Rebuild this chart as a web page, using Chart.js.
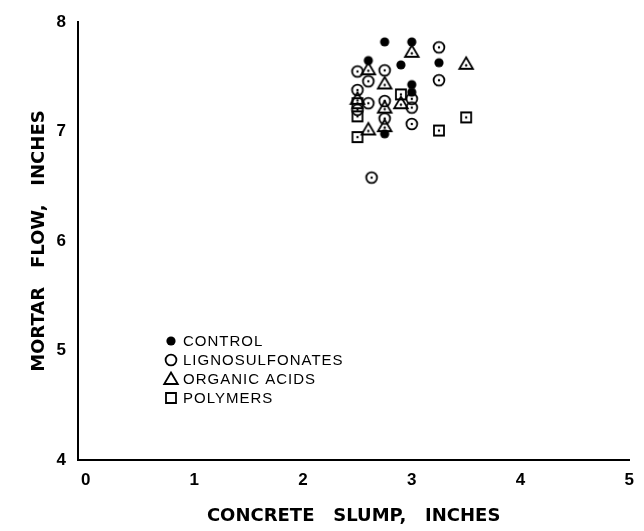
<!DOCTYPE html>
<html>
<head>
<meta charset="utf-8">
<title>Mortar flow vs concrete slump</title>
<script src="https://cdn.jsdelivr.net/npm/chart.js@4.4.1/dist/chart.umd.min.js"></script>
<style>
    html, body { margin: 0; padding: 0; background: #fff; }
    #wrap { width: 644px; height: 531px; }
</style>
</head>
<body>
<div id="wrap"><canvas id="flowChart" width="644" height="531"></canvas></div>
<script>
// slump (in) and mortar flow (in) for each admixture group
const controlSlump = [2.6, 2.75, 2.9, 3.0, 3.0, 3.0, 3.25, 2.75];
const controlFlow  = [7.65, 7.82, 7.61, 7.82, 7.43, 7.36, 7.63, 6.98];

const lignoSlump = [2.5, 2.5, 2.5, 2.6, 2.6, 2.75, 2.75, 2.75, 3.0, 3.0, 3.0, 3.25, 3.25, 2.63];
const lignoFlow  = [7.55, 7.38, 7.2, 7.46, 7.26, 7.56, 7.28, 7.12, 7.3, 7.22, 7.07, 7.77, 7.47, 6.58];

const organicSlump = [2.5, 2.6, 2.6, 2.75, 2.75, 2.75, 2.9, 3.0, 3.5];
const organicFlow  = [7.3, 7.57, 7.02, 7.44, 7.22, 7.05, 7.26, 7.73, 7.62];

const polymerSlump = [2.5, 2.5, 2.5, 2.9, 3.25, 3.5];
const polymerFlow  = [7.26, 7.14, 6.95, 7.34, 7.01, 7.13];

const seriesNames = ['CONTROL', 'LIGNOSULFONATES', 'ORGANIC ACIDS', 'POLYMERS'];
const slumpTicks = [0, 1, 2, 3, 4, 5];
const flowTicks = [4, 5, 6, 7, 8];

const FONT = '"Liberation Sans", Arial, sans-serif';
const TITLE_FONT = '"DejaVu Sans", sans-serif';

// hand-drawn looking markers; open ones carry a small centre dot
const makeMarker = (shape, withDot) => {
    const c = document.createElement('canvas');
    c.width = 18;
    c.height = 18;
    const g = c.getContext('2d');
    const m = 9;
    g.strokeStyle = '#000';
    g.fillStyle = '#000';
    g.lineWidth = 1.8;
    g.beginPath();
    if (shape === 'dot') {
        g.arc(m, m, 4.6, 0, Math.PI * 2);
        g.fill();
    } else if (shape === 'circle') {
        g.arc(m, m, 5.4, 0, Math.PI * 2);
        g.stroke();
    } else if (shape === 'triangle') {
        g.moveTo(m, m - 6.5);
        g.lineTo(m + 6.8, m + 5);
        g.lineTo(m - 6.8, m + 5);
        g.closePath();
        g.stroke();
    } else {
        g.rect(m - 5, m - 5, 10, 10);
        g.stroke();
    }
    if (withDot && shape !== 'dot') {
        g.beginPath();
        g.arc(m, shape === 'triangle' ? m + 1.5 : m, 1.2, 0, Math.PI * 2);
        g.fill();
    }
    return c;
};

const shapes = ['dot', 'circle', 'triangle', 'square'];
const plotMarkers = shapes.map(s => makeMarker(s, true));
const legendMarkers = shapes.map(s => makeMarker(s, false));

const toPoints = (xs, ys) => xs.map((x, i) => ({ x: x, y: ys[i] }));

const groups = [
    toPoints(controlSlump, controlFlow),
    toPoints(lignoSlump, lignoFlow),
    toPoints(organicSlump, organicFlow),
    toPoints(polymerSlump, polymerFlow)
];

// legend sits inside the plot, lower left
const inlineLegend = {
    id: 'inlineLegend',
    afterDraw(chart) {
        const ctx = chart.ctx;
        ctx.save();
        ctx.font = '15px ' + FONT;
        ctx.fillStyle = '#000';
        ctx.textBaseline = 'middle';
        ctx.letterSpacing = '1px';
        chart.data.datasets.forEach((ds, i) => {
            const y = 341 + i * 19;
            ctx.drawImage(legendMarkers[i], 171 - 9, y - 9);
            ctx.fillText(ds.label, 183, y + 1);
        });
        ctx.restore();
    }
};

const tickFont = { family: FONT, size: 17, weight: 'bold' };
const titleFont = { family: TITLE_FONT, size: 18, weight: 'bold' };

new Chart(document.getElementById('flowChart').getContext('2d'), {
    type: 'scatter',
    data: {
        datasets: groups.map((pts, i) => ({
            label: seriesNames[i],
            data: pts,
            pointStyle: plotMarkers[i],
            pointRadius: 6,
            borderColor: '#000',
            backgroundColor: '#000'
        }))
    },
    options: {
        responsive: false,
        animation: false,
        events: [],
        layout: { padding: { top: 19, right: 12, left: 0, bottom: 0 } },
        plugins: {
            legend: { display: false },
            tooltip: { enabled: false }
        },
        scales: {
            x: {
                type: 'linear',
                min: -0.07,
                max: 5,
                afterBuildTicks: (scale) => {
                    scale.ticks = slumpTicks.map(v => ({ value: v }));
                },
                afterFit: (scale) => { scale.height = 71; },
                grid: { color: 'rgba(0,0,0,0)', drawTicks: false },
                border: { color: '#000', width: 2 },
                ticks: { color: '#000', font: tickFont, padding: 10, maxRotation: 0 },
                title: {
                    display: true,
                    text: 'CONCRETE   SLUMP,   INCHES',
                    color: '#000',
                    font: titleFont,
                    padding: { top: 0, bottom: 4 }
                }
            },
            y: {
                type: 'linear',
                min: 4,
                max: 8,
                afterBuildTicks: (scale) => {
                    scale.ticks = flowTicks.map(v => ({ value: v }));
                },
                afterFit: (scale) => { scale.width = 78; },
                grid: { color: 'rgba(0,0,0,0)', drawTicks: false },
                border: { color: '#000', width: 2 },
                ticks: { color: '#000', font: tickFont, padding: 12 },
                title: {
                    display: true,
                    text: 'MORTAR   FLOW,   INCHES',
                    color: '#000',
                    font: titleFont,
                    padding: { top: 29, bottom: 0 }
                }
            }
        }
    },
    plugins: [inlineLegend]
});
</script>
</body>
</html>
